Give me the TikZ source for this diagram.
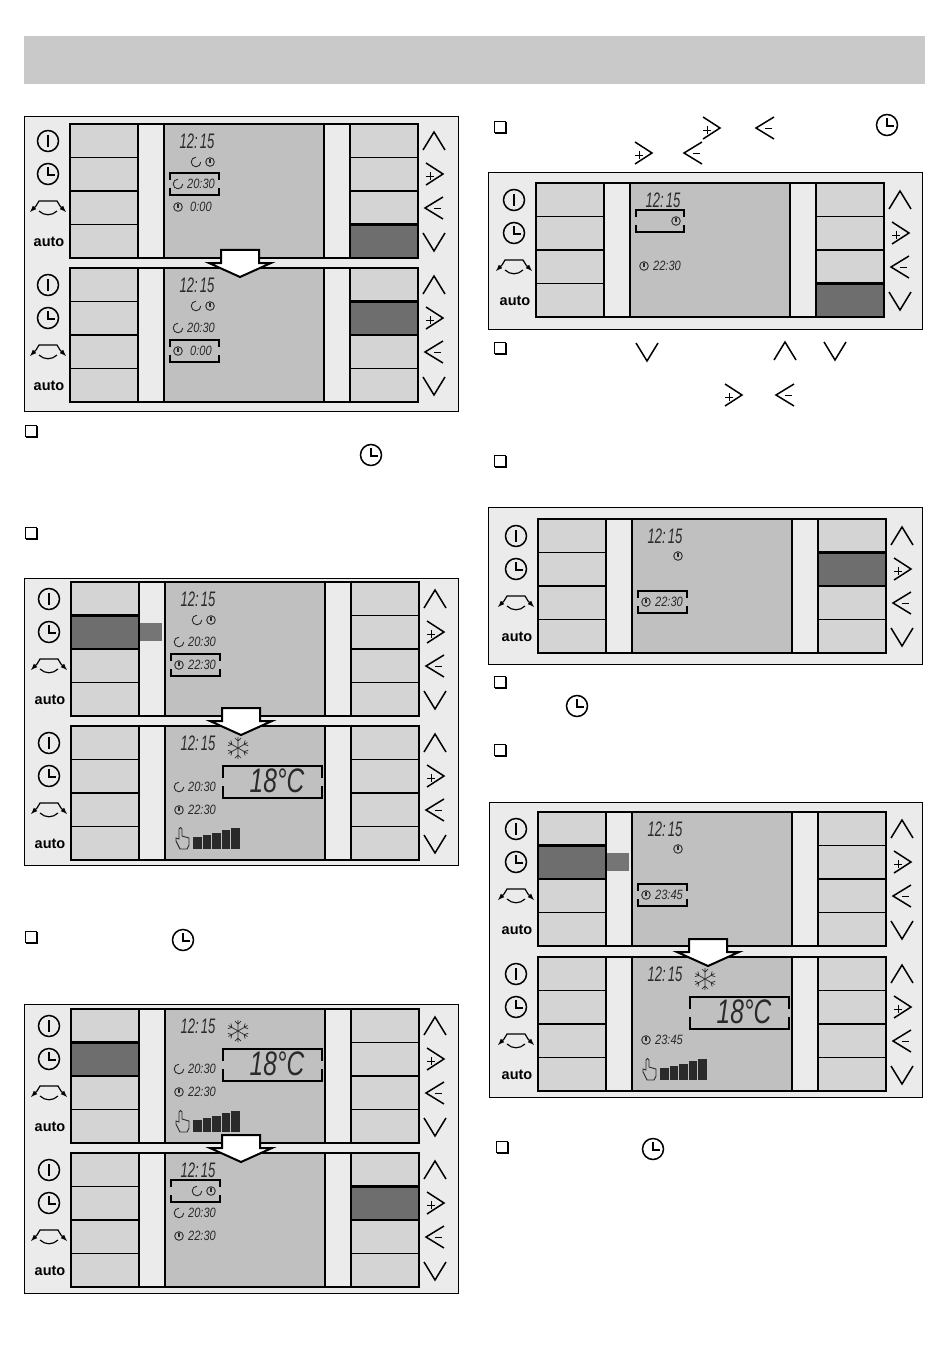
\documentclass[tikz,border=0pt]{standalone}
\usepackage{fontspec}
\setsansfont{Liberation Sans}
\usepackage{tikz}
\usetikzlibrary{arrows}
\usetikzlibrary{positioning}

\definecolor{panelgray}{HTML}{EBEBEB}
\definecolor{keygray}{HTML}{D4D4D4}
\definecolor{lcdgray}{HTML}{C0C0C0}
\definecolor{litgray}{HTML}{6E6E6E}
\definecolor{bannergray}{HTML}{C9C9C9}
\definecolor{lcdink}{HTML}{2A2A2A}

\tikzset{
	frameline/.style={draw=black,line width=0.9pt,fill=panelgray},
	keyline/.style={draw=black,line width=1.5pt},
	iconline/.style={draw=black,line width=1.5pt},
	thinicon/.style={draw=lcdink,line width=0.9pt},
	bracketline/.style={draw=black,line width=2.2pt},
	lcdclock/.style={inner sep=0pt,text=lcdink,transform shape,xscale=0.62,font=\sffamily\itshape\fontsize{21}{21}\selectfont},
	lcdrow/.style={inner sep=0pt,text=lcdink,transform shape,xscale=0.82,font=\sffamily\itshape\fontsize{13.5}{14}\selectfont},
	lcdtemp/.style={inner sep=0pt,text=lcdink,transform shape,xscale=0.72,font=\sffamily\itshape\fontsize{34}{34}\selectfont},
	autotext/.style={inner sep=0pt,font=\sffamily\bfseries\fontsize{14.5}{15}\selectfont},
}

% small icons, all centred on #1,#2
\newcommand\iconon[2]{\begin{scope}[shift={(#1,#2)}]
	\draw[iconline] (0,0) circle (10.5);
	\draw[iconline] (0,-6)--(0,6);
\end{scope}}
\newcommand\iconclock[2]{\begin{scope}[shift={(#1,#2)}]
	\draw[iconline] (0,0) circle (10.5);
	\draw[iconline] (0,-7)--(0,1)--(7,1);
\end{scope}}
\newcommand\iconswap[2]{\begin{scope}[shift={(#1,#2)}]
	\draw[<->,>=latex,line width=1.2pt] (-18,4)--(-12,-2)--(-9,-7)--(9,-7)--(12,-2)--(18,4);
	\draw[line width=1.2pt] (-9,3) .. controls (-4,8) and (4,8) .. (9,3);
\end{scope}}
\newcommand\iconup[2]{\draw[iconline,shift={(#1,#2)}] (-11,9)--(0,-9)--(11,9);}
\newcommand\icondown[2]{\draw[iconline,shift={(#1,#2)}] (-11,-9)--(0,9)--(11,-9);}
\newcommand\iconplus[2]{\begin{scope}[shift={(#1,#2)}]
	\draw[iconline] (-8,-11)--(9,0)--(-8,11);
	\draw[line width=0.7pt] (-8,2)--(0,2) (-4,-2)--(-4,6);
\end{scope}}
\newcommand\iconminus[2]{\begin{scope}[shift={(#1,#2)}]
	\draw[iconline] (9,-11)--(-9,0)--(9,11);
	\draw[line width=0.7pt] (0,0)--(7,0);
\end{scope}}
\newcommand\iconmoon[2]{\draw[thinicon,shift={(#1,#2)}] (4.8,0) arc [start angle=0,end angle=270,radius=4.8];}
\newcommand\icondot[2]{\begin{scope}[shift={(#1,#2)}]
	\draw[thinicon] (0,0) circle (4.3);
	\draw[thinicon,line width=1.1pt] (0,-3.4)--(0,1);
\end{scope}}
\newcommand\chkbox[2]{\begin{scope}[shift={(#1,#2)}]
	\draw[line width=0.7pt] (-6,-6) rectangle (5,5);
	\draw[line width=1.8pt] (-5,6)--(6,6)--(6,-5);
\end{scope}}

% one row of four keys left and right, with the screen between them
\newcommand\keypad[2]{\begin{scope}[shift={(#1,#2)}]
	\fill[keygray] (0,0) rectangle (68,134);
	\fill[keygray] (280,0) rectangle (348,134);
	\fill[lcdgray] (94,0) rectangle (254,134);
	\draw[keyline] (0,0) rectangle (348,134);
	\draw[keyline] (68,0)--(68,134) (94,0)--(94,134) (254,0)--(254,134) (280,0)--(280,134);
	\foreach \r in {33.5,67,100.5} {
		\draw[keyline] (0,\r)--(68,\r) (280,\r)--(348,\r);
	}
	\iconon{-22}{17}
	\iconclock{-22}{50}
	\iconswap{-22}{84}
	\node[autotext] (autolabel) at (-21,118) {auto};
	\iconup{364}{17}
	\iconplus{364}{50}
	\iconminus{364}{84}
	\icondown{364}{118}
\end{scope}}
\newcommand\litkey[4]{\draw[shift={(#1,#2)},line width=2.4pt,fill=litgray] (#3,33.5*#4) rectangle +(68,33.5);}
\newcommand\littab[2]{\fill[shift={(#1,#2)},litgray!95!white] (69,41) rectangle (91,59);}
\newcommand\bigarrow[2]{\draw[shift={(#1,#2)},fill=white,line width=2pt,line join=miter]
	(-19,-18)--(-19,-5)--(-31,-5)--(0,9)--(31,-5)--(19,-5)--(19,-18)--cycle;}
\newcommand\lcdbracket[6]{\begin{scope}[shift={(#1,#2)}]
	\draw[bracketline] (#3,0.5*#4+0.5*#6-4)--(#3,#4)--(#5,#4)--(#5,0.5*#4+0.5*#6-4);
	\draw[bracketline] (#3,0.5*#4+0.5*#6+4)--(#3,#6)--(#5,#6)--(#5,0.5*#4+0.5*#6+4);
\end{scope}}
\newcommand\lcdtime[2]{\begin{scope}[shift={(#1,#2)}]
	\node[lcdclock] (clocktime) at (127,17) {12:\,15};
\end{scope}}
\newcommand\moonrow[3]{\begin{scope}[shift={(#1,#2)}]
	\iconmoon{108}{#3}
	\node[lcdrow] (moontime) at (131,#3) {20:30};
\end{scope}}
\newcommand\timerow[3]{\begin{scope}[shift={(#1,#2)}]
	\icondot{108}{83}
	\node[lcdrow] (dottime) at (131,83) {#3};
\end{scope}}
\newcommand\toprow[2]{\begin{scope}[shift={(#1,#2)}]
	\iconmoon{126}{38}
	\icondot{140}{38}
\end{scope}}
% frost flake, big temperature and fan bars
\newcommand\frostview[2]{\begin{scope}[shift={(#1,#2)}]
	\begin{scope}[shift={(167,22)}]
		\foreach \a in {90,30,-30} {
			\draw[thinicon,line width=0.7pt,rotate=\a] (-11,0)--(11,0) (10,-3)--(7,0)--(10,3) (-10,-3)--(-7,0)--(-10,3);
		}
	\end{scope}
	\lcdbracket{0}{0}{152}{40}{251}{72}
	\node[lcdtemp] (tempvalue) at (206,55) {18°C};
	\draw[thinicon,fill=lcdgray] (109,123)--(105,115)--(105,112)--(108,113)--(108,103) .. controls (108,101) and (111,101) .. (111,103)
		--(111,110)--(118,112)--(118,119)--(116,123)--cycle;
	\foreach \i/\h in {0/12,1/14,2/16,3/19,4/21} {
		\fill[lcdink] (122+9.6*\i,123) rectangle +(8.6,-\h);
	}
\end{scope}}

\begin{document}
\begin{tikzpicture}[x=1pt,y=-1pt]
	\useasboundingbox (0,0) rectangle (950,1372);
	\fill[white] (0,0) rectangle (950,1372);
	\fill[bannergray] (24,36) rectangle (925,84);

	\draw[frameline] (24,116) rectangle (458,411);
	\draw[frameline] (24,578) rectangle (458,865);
	\draw[frameline] (24,1004) rectangle (458,1293);
	\draw[frameline] (488,172) rectangle (922,329);
	\draw[frameline] (488,507) rectangle (922,664);
	\draw[frameline] (489,802) rectangle (922,1097);

	%first panel
	\keypad{70}{124}
	\litkey{70}{124}{280}{3}
	\lcdtime{70}{124}
	\toprow{70}{124}
	\moonrow{70}{124}{60}
	\timerow{70}{124}{0:00}
	\lcdbracket{70}{124}{100}{49}{149}{71}
	\keypad{70}{268}
	\litkey{70}{268}{280}{1}
	\lcdtime{70}{268}
	\toprow{70}{268}
	\moonrow{70}{268}{60}
	\timerow{70}{268}{0:00}
	\lcdbracket{70}{268}{100}{72}{149}{94}
	\bigarrow{240}{268}

	%second panel
	\keypad{71}{582}
	\litkey{71}{582}{0}{1}
	\littab{71}{582}
	\lcdtime{71}{582}
	\toprow{71}{582}
	\moonrow{71}{582}{60}
	\timerow{71}{582}{22:30}
	\lcdbracket{71}{582}{100}{72}{149}{94}
	\keypad{71}{726}
	\lcdtime{71}{726}
	\moonrow{71}{726}{61}
	\timerow{71}{727}{22:30}
	\frostview{71}{726}
	\bigarrow{241}{726}

	%third panel
	\keypad{71}{1009}
	\litkey{71}{1009}{0}{1}
	\lcdtime{71}{1009}
	\moonrow{71}{1009}{60}
	\timerow{71}{1009}{22:30}
	\frostview{71}{1009}
	\keypad{71}{1153}
	\litkey{71}{1153}{280}{1}
	\lcdtime{71}{1153}
	\toprow{71}{1153}
	\moonrow{71}{1153}{60}
	\timerow{71}{1153}{22:30}
	\lcdbracket{71}{1153}{100}{27}{149}{49}
	\bigarrow{241}{1153}

	%right column
	\keypad{536}{183}
	\litkey{536}{183}{280}{3}
	\lcdtime{536}{183}
	\icondot{676}{221}
	\timerow{536}{183}{22:30}
	\lcdbracket{536}{183}{100}{27}{148}{49}

	\keypad{538}{519}
	\litkey{538}{519}{280}{1}
	\lcdtime{538}{519}
	\icondot{678}{556}
	\timerow{538}{519}{22:30}
	\lcdbracket{538}{519}{100}{72}{149}{94}

	\keypad{538}{812}
	\litkey{538}{812}{0}{1}
	\littab{538}{812}
	\lcdtime{538}{812}
	\icondot{678}{849}
	\timerow{538}{812}{23:45}
	\lcdbracket{538}{812}{100}{72}{149}{94}
	\keypad{538}{957}
	\lcdtime{538}{957}
	\timerow{538}{957}{23:45}
	\frostview{538}{957}
	\bigarrow{708}{957}

	%bullets and the symbols between the lines
	\chkbox{31}{431}
	\chkbox{31}{533}
	\chkbox{31}{937}
	\chkbox{500}{127}
	\chkbox{500}{348}
	\chkbox{500}{461}
	\chkbox{500}{682}
	\chkbox{500}{750}
	\chkbox{502}{1147}

	\iconclock{371}{455}
	\iconclock{183}{940}
	\iconclock{887}{125}
	\iconclock{577}{706}
	\iconclock{653}{1149}
	\iconplus{711}{128}
	\iconminus{765}{128}
	\iconplus{643}{153}
	\iconminus{693}{153}
	\icondown{647}{352}
	\iconup{785}{351}
	\icondown{835}{351}
	\iconplus{733}{395}
	\iconminus{785}{395}
\end{tikzpicture}
\end{document}
